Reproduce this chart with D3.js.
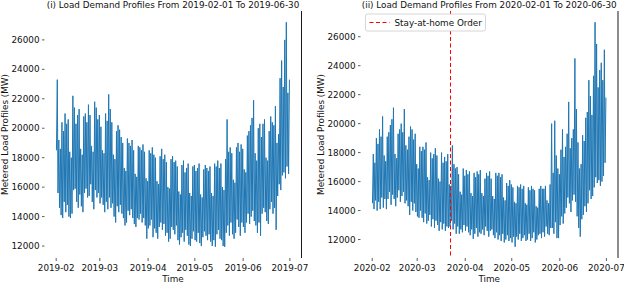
<!DOCTYPE html>
<html>
<head>
<meta charset="utf-8">
<script src="https://cdn.jsdelivr.net/npm/d3@7"></script>
<style>
  body { margin: 0; background: #fff; }
  text { font-family: "DejaVu Sans", sans-serif; }
</style>
</head>
<body>
<svg id="chart" width="624" height="284"></svg>
<script>
// daily trough / peak load (MW)
const start2019 = "2019-02-01";
const high2019 = [
  23300, 19200, 18600, 20400, 19800, 21000, 20300, 20600, 18400, 18000,
  22200, 21400, 20300, 20900, 21300, 18600, 18200, 20800, 21000, 20400,
  21600, 20900, 18800, 18400, 21800, 21400, 20600, 20900, 20100, 18500,
  18300, 21000, 20500, 22300, 21300, 20400, 18200, 17900, 19800, 20200,
  19900, 19400, 19000, 17300, 17100, 19300, 19000, 18800, 19200, 18500,
  16900, 16700, 18800, 18700, 18500, 18900, 18400, 16600, 16400, 18500,
  18300, 18700, 18200, 18000, 16400, 16200, 18100, 18600, 17900, 18200,
  17700, 16000, 15900, 17900, 18100, 17700, 17800, 17400, 15700, 15500,
  17500, 17800, 17000, 17300, 17600, 15600, 15400, 17400, 17500, 17100,
  17300, 17600, 15500, 15300, 17200, 17500, 17300, 17100, 17400, 15600,
  15400, 17600, 17400, 17800, 17300, 17600, 16000, 15800, 17900, 20600,
  18400, 18700, 18300, 16500, 16300, 18700, 19000, 18400, 18900, 18600,
  17200, 17000, 19500, 19800, 20200, 20700, 21900, 18300, 17800, 20000,
  20300, 19400, 20300, 20600, 18000, 17800, 19800, 20800, 20400, 20200,
  21500, 19000, 19600, 23400, 24600, 22800, 26000, 27200, 22400, 23300
];
const low2019 = [
  18500, 15600, 14600, 14100, 13900, 15000, 14300, 14800, 14000, 13900,
  14200, 15800, 15900, 15000, 14600, 15500, 14700, 14300, 15600, 15900,
  15300, 15400, 16200, 15000, 14500, 15800, 15300, 15600, 14900, 15300,
  14800, 14300, 15000, 14500, 15300, 14600, 14900, 14000, 13600, 14700,
  14300, 14800, 14200, 13900, 13400, 13600, 14400, 14100, 14500, 13900,
  13500, 13300, 13900, 13800, 14200, 13600, 13900, 13400, 12500, 13200,
  13400, 13800, 12600, 13200, 12900, 12500, 13300, 13600, 13100, 13500,
  12700, 12900, 12300, 12500, 13300, 13100, 12800, 13400, 12400, 12100,
  12600, 12900, 12300, 13100, 12700, 12100, 12000, 12500, 13000, 12400,
  12300, 12900, 12200, 12000, 12600, 13000, 12700, 12400, 12800, 12300,
  12000, 12400, 11950, 12800, 13100, 12500, 12400, 12000, 11950, 12900,
  13400, 12700, 13600, 12800, 12500, 12900, 13800, 13300, 12700, 13600,
  13300, 12900, 13600, 14200, 13500, 14000, 14400, 13700, 13400, 12900,
  13600, 12700, 14200, 14600, 14300, 13700, 13500, 14500, 15000, 14200,
  14600, 13100, 15400, 16200, 15800, 16800, 17000, 16600, 17400, 16900
];

const start2020 = "2020-02-01";
const high2020 = [
  17900, 17300, 19000, 18600, 19600, 19100, 20500, 17800, 17400, 19100,
  19400, 19900, 20300, 21100, 17900, 17600, 19300, 19600, 20000, 19400,
  21000, 18500, 18200, 19100, 19800, 19600, 18900, 19300, 17200, 16900,
  18400, 18100, 18400, 18200, 18700, 16300, 16100, 18000, 17600, 17900,
  18300, 17800, 16200, 16000, 18000, 17300, 17700, 17400, 17900, 15800,
  15700, 18500, 17200, 16900, 17000, 16500, 15300, 15100, 16900, 16400,
  16800, 16500, 16700, 15200, 15000, 16600, 16300, 16700, 16500, 16800,
  15200, 15000, 16200, 16600, 16400, 16700, 16200, 15000, 14800, 16600,
  16400, 16600, 16300, 16500, 14900, 14700, 15900, 15700, 16100, 15800,
  15600, 14600, 14500, 15700, 15600, 15800, 15500, 15700, 14500, 14400,
  15600, 15400, 15700, 15500, 15400, 14300, 14200, 15500, 15700, 15500,
  15500, 15700, 14700, 14500, 15800, 20000, 16600, 20200, 17800, 16900,
  16500, 18200, 19600, 17700, 18400, 19300, 21500, 18300, 19000, 19600,
  24500, 21000, 18700, 16900, 17200, 19200, 18800, 20400, 20800, 23000,
  21900, 20600, 23300, 27000, 25500, 22500, 23700, 24200, 23000, 25100, 21800
];
const low2020 = [
  14500, 14100, 14700, 14000, 14600, 14100, 14900, 14200, 14800, 14100,
  14800, 15300, 14400, 15100, 14800, 14300, 14900, 15400, 14600, 15000,
  15300, 14500, 14700, 14300, 13700, 14600, 14000, 14500, 13900, 13600,
  13500, 14000, 13500, 13200, 13800, 13100, 13300, 13700, 12900, 13400,
  12800, 13300, 13000, 12600, 13200, 12700, 13100, 12600, 12900, 12800,
  12900, 13300, 12700, 13100, 12400, 12900, 12400, 12700, 12500, 13000,
  12600, 12900, 12500, 12300, 12700, 12050, 12400, 12800, 12200, 12500,
  12400, 12700, 12300, 12900, 12600, 12200, 12600, 12700, 12300, 12100,
  12500, 12000, 12300, 11900, 12400, 11800, 12000, 12300, 11900, 12100,
  11800, 12200, 11500, 12200, 12000, 12400, 11900, 12100, 12300, 11900,
  12000, 12400, 11900, 12100, 12500, 11800, 12000, 12300, 12400, 12100,
  12500, 12200, 12900, 12400, 12300, 12800, 12800, 12400, 13200, 12100,
  12100, 13000, 13600, 13100, 13800, 14200, 14900, 14500, 13900, 14700,
  15100, 14600, 13600, 12800, 12200, 13400, 13700, 14300, 13900, 14500,
  15400, 14800, 15000, 15600, 16300, 15900, 16100, 15700, 16000, 16400, 17300
];

const yTicks = [12000, 14000, 16000, 18000, 20000, 22000, 24000, 26000];
const xTicks2019 = ["2019-02-01", "2019-03-01", "2019-04-01", "2019-05-01", "2019-06-01", "2019-07-01"];
const xTicks2020 = ["2020-02-01", "2020-03-01", "2020-04-01", "2020-05-01", "2020-06-01", "2020-07-01"];
const orderDate = "2020-03-22";
const orderLabel = "Stay-at-home Order";

const svg = d3.select("#chart");
const parse = d3.utcParse("%Y-%m-%d");
const fmt = d3.utcFormat("%Y-%m");
const blue = "#1f77b4";
const axTop = 11, axBottom = 258;

// trough early morning, peak late afternoon
function toSeries(start, lows, highs) {
  const t0 = parse(start);
  const pts = [];
  lows.forEach((lo, i) => {
    const day = d3.utcDay.offset(t0, i);
    pts.push({ t: d3.utcHour.offset(day, 4), v: lo });
    pts.push({ t: d3.utcHour.offset(day, 17), v: highs[i] });
  });
  return pts;
}

function panel(cfg) {
  const g = svg.append("g");
  const t0 = parse(cfg.start);
  const t1 = d3.utcHour.offset(d3.utcDay.offset(t0, cfg.lows.length), -1);
  const span = t1 - t0;
  const x = d3.scaleUtc()
    .domain([new Date(+t0 - span * 0.05), new Date(+t1 + span * 0.05)])
    .range([cfg.left, cfg.right]);

  const vmin = d3.min(cfg.lows), vmax = d3.max(cfg.highs);
  const pad = (vmax - vmin) * 0.05;
  const y = d3.scaleLinear().domain([vmin - pad, vmax + pad]).range([axBottom, axTop]);

  const data = toSeries(cfg.start, cfg.lows, cfg.highs);
  const line = d3.line().x(d => x(d.t)).y(d => y(d.v));

  g.append("path")
    .datum(data)
    .attr("d", line)
    .attr("fill", "none")
    .attr("stroke", blue)
    .attr("stroke-width", 1)
    .attr("stroke-linejoin", "round");

  // right spine only
  g.append("line")
    .attr("x1", cfg.right).attr("x2", cfg.right)
    .attr("y1", axTop).attr("y2", axBottom)
    .attr("stroke", "#000").attr("stroke-width", 0.9);

  // y ticks
  const yt = g.selectAll("g.ytick").data(yTicks).enter().append("g")
    .attr("transform", d => "translate(0," + y(d) + ")");
  yt.append("line").attr("x1", cfg.left - 2.5).attr("x2", cfg.left)
    .attr("stroke", "#333").attr("stroke-width", 0.8);
  yt.append("text").attr("x", cfg.left - 5).attr("dy", "0.35em")
    .attr("text-anchor", "end").attr("font-size", 8.8).attr("fill", "#111")
    .text(d => d);

  // x ticks
  const xt = g.selectAll("g.xtick").data(cfg.xTicks.map(parse)).enter().append("g")
    .attr("transform", d => "translate(" + x(d) + ",0)");
  xt.append("line").attr("y1", axBottom).attr("y2", axBottom + 3)
    .attr("stroke", "#333").attr("stroke-width", 0.8);
  xt.append("text").attr("y", 271).attr("text-anchor", "middle")
    .attr("font-size", 8.8).attr("fill", "#111")
    .text(d => fmt(d));

  const cx = (cfg.left + cfg.right) / 2;
  g.append("text").attr("x", cx).attr("y", 7.5).attr("text-anchor", "middle")
    .attr("font-size", 8.8).attr("fill", "#111").text(cfg.title);
  g.append("text").attr("x", cx).attr("y", 282).attr("text-anchor", "middle")
    .attr("font-size", 8.8).attr("fill", "#111").text("Time");
  g.append("text")
    .attr("transform", "translate(" + cfg.ylabelX + "," + ((axTop + axBottom) / 2) + ") rotate(-90)")
    .attr("text-anchor", "middle").attr("font-size", 8.8).attr("fill", "#111")
    .text("Metered Load Profiles (MW)");

  if (cfg.marker) {
    const mx = Math.round(x(parse(cfg.marker))) + 0.5;
    g.append("line")
      .attr("x1", mx).attr("x2", mx).attr("y1", axTop).attr("y2", axBottom)
      .attr("stroke", "red").attr("stroke-width", 1)
      .attr("stroke-dasharray", "4,2.5");

    const lg = g.append("g").attr("transform", "translate(" + (cfg.left + 5) + "," + (axTop + 3) + ")");
    lg.append("rect").attr("width", 120).attr("height", 17).attr("rx", 2)
      .attr("fill", "#fff").attr("fill-opacity", 0.95)
      .attr("stroke", "#ccc").attr("stroke-width", 0.8);
    lg.append("line").attr("x1", 4).attr("x2", 24).attr("y1", 8.5).attr("y2", 8.5)
      .attr("stroke", "red").attr("stroke-width", 1).attr("stroke-dasharray", "4,2.5");
    lg.append("text").attr("x", 29).attr("y", 8.5).attr("dy", "0.35em")
      .attr("font-size", 8.8).attr("fill", "#111").text(orderLabel);
  }
}

panel({
  start: start2019, lows: low2019, highs: high2019, xTicks: xTicks2019,
  left: 44.5, right: 301.5, ylabelX: 7.5,
  title: "(i) Load Demand Profiles From 2019-02-01 To 2019-06-30"
});
panel({
  start: start2020, lows: low2020, highs: high2020, xTicks: xTicks2020,
  left: 360.5, right: 618, ylabelX: 324, marker: orderDate,
  title: "(ii) Load Demand Profiles From 2020-02-01 To 2020-06-30"
});
</script>
</body>
</html>
